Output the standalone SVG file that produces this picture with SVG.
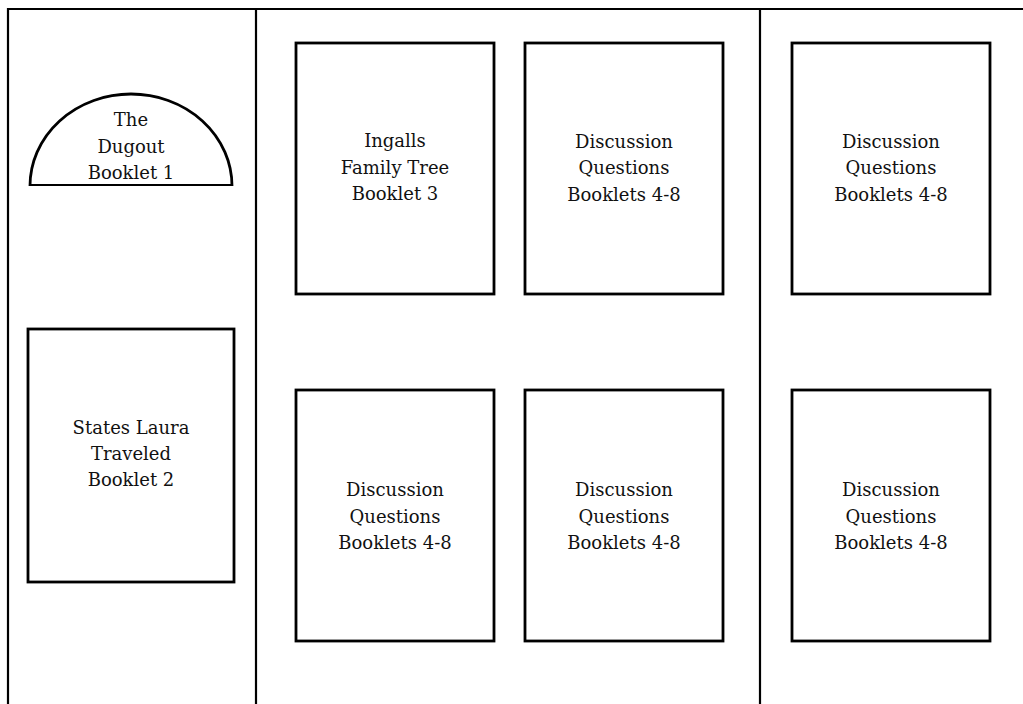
<svg xmlns="http://www.w3.org/2000/svg" width="1023" height="704" viewBox="0 0 1023 704">
<style>
.frame{fill:none;stroke:#000;stroke-width:2.2}
.box{fill:#fff;stroke:#000;stroke-width:2.8}
.lbl{font-family:"DejaVu Serif","Liberation Serif",serif;font-size:18px;fill:#111;text-anchor:middle}
</style>
<rect width="1023" height="704" fill="#fff"/>
<g id="frame">
<path class="frame" d="M8,704 V9 H1023"/>
<path class="frame" d="M256,9 V704"/>
<path class="frame" d="M760,9 V704"/>
</g>
<g id="dugout">
<path class="box" d="M30,186 A101,92 0 0 1 232,186"/>
<path class="frame" stroke-width="2.6" d="M30,185 H231"/>
<text class="lbl" x="131" y="126">The</text>
<text class="lbl" x="131" y="153">Dugout</text>
<text class="lbl" x="131" y="179">Booklet 1</text>
</g>
<g id="states">
<rect class="box" x="28" y="329" width="206" height="253"/>
<text class="lbl" x="131" y="434">States Laura</text>
<text class="lbl" x="131" y="460">Traveled</text>
<text class="lbl" x="131" y="486">Booklet 2</text>
</g>
<g id="ingalls">
<rect class="box" x="296" y="43" width="198" height="251"/>
<text class="lbl" x="395" y="147">Ingalls</text>
<text class="lbl" x="395" y="174">Family Tree</text>
<text class="lbl" x="395" y="200">Booklet 3</text>
</g>
<g id="disc1">
<rect class="box" x="525" y="43" width="198" height="251"/>
<text class="lbl" x="624" y="148">Discussion</text>
<text class="lbl" x="624" y="174">Questions</text>
<text class="lbl" x="624" y="201">Booklets 4-8</text>
</g>
<g id="disc2">
<rect class="box" x="792" y="43" width="198" height="251"/>
<text class="lbl" x="891" y="148">Discussion</text>
<text class="lbl" x="891" y="174">Questions</text>
<text class="lbl" x="891" y="201">Booklets 4-8</text>
</g>
<g id="disc3">
<rect class="box" x="296" y="390" width="198" height="251"/>
<text class="lbl" x="395" y="496">Discussion</text>
<text class="lbl" x="395" y="523">Questions</text>
<text class="lbl" x="395" y="549">Booklets 4-8</text>
</g>
<g id="disc4">
<rect class="box" x="525" y="390" width="198" height="251"/>
<text class="lbl" x="624" y="496">Discussion</text>
<text class="lbl" x="624" y="523">Questions</text>
<text class="lbl" x="624" y="549">Booklets 4-8</text>
</g>
<g id="disc5">
<rect class="box" x="792" y="390" width="198" height="251"/>
<text class="lbl" x="891" y="496">Discussion</text>
<text class="lbl" x="891" y="523">Questions</text>
<text class="lbl" x="891" y="549">Booklets 4-8</text>
</g>
<g id="connectors"></g>
</svg>
